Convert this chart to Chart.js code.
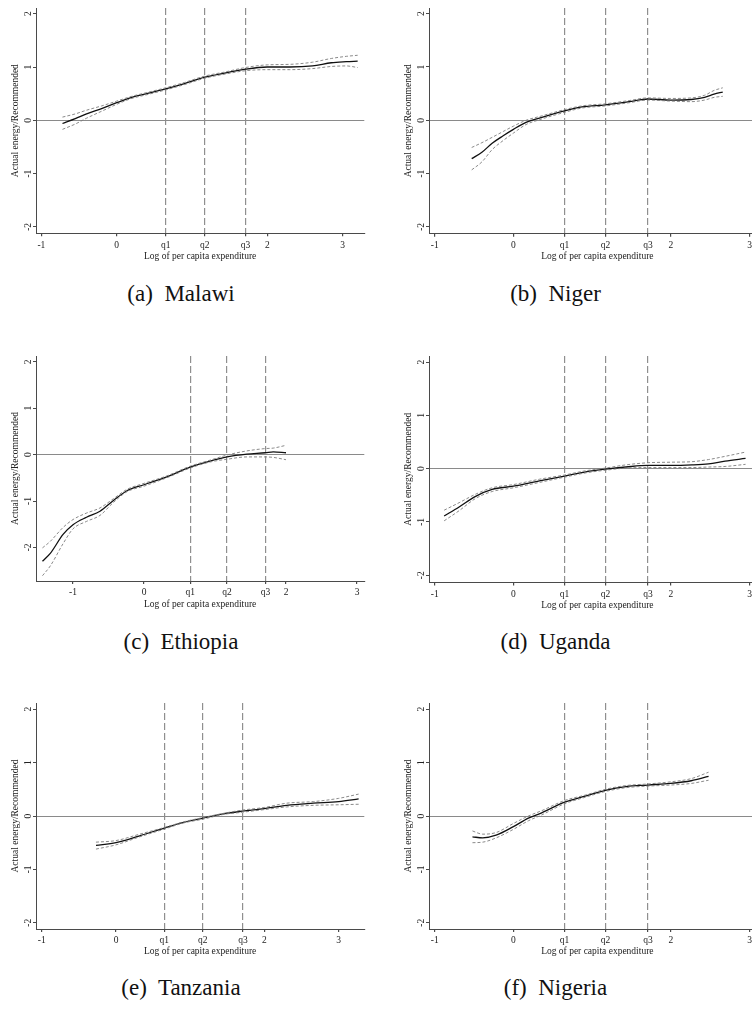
<!DOCTYPE html>
<html>
<head>
<meta charset="utf-8">
<script src="https://cdn.jsdelivr.net/npm/chart.js@4.4.1/dist/chart.umd.min.js"></script>
<style>
    html, body { margin: 0; padding: 0; width: 752px; height: 1015px; overflow: hidden; background: #fff; }
    #page { position: relative; width: 752px; height: 1015px; overflow: hidden; }
    canvas { position: absolute; }
    .caption { position: absolute; font-family: "Liberation Serif", serif; font-size: 23px; line-height: 26px; color: #111; white-space: pre; transform: translateX(-50%); }
</style>
</head>
<body>
<div id="page"></div>
<script>

const quartiles = [0.65, 1.17, 1.71]
const xTickValues = [-1, 0, ...quartiles, 2, 3]
const xTickLabels = ['-1', '0', 'q1', 'q2', 'q3', '2', '3']
const yTickValues = [-2, -1, 0, 1, 2]

const malawiX = [-0.72, -0.55, -0.4, -0.2, 0, 0.2, 0.4, 0.65, 0.9, 1.17, 1.45, 1.71, 2.0, 2.3, 2.6, 2.85, 3.05, 3.2]
const malawiFit = [-0.06, 0.03, 0.12, 0.22, 0.33, 0.43, 0.50, 0.59, 0.69, 0.81, 0.89, 0.96, 1.0, 1.0, 1.02, 1.08, 1.1, 1.11]
const malawiUpper = [0.06, 0.12, 0.19, 0.27, 0.36, 0.45, 0.52, 0.61, 0.71, 0.83, 0.91, 0.99, 1.04, 1.05, 1.09, 1.16, 1.2, 1.22]
const malawiLower = [-0.17, -0.07, 0.04, 0.17, 0.30, 0.41, 0.48, 0.57, 0.67, 0.79, 0.87, 0.93, 0.95, 0.95, 0.97, 1.01, 1.02, 0.99]

const nigerX = [-0.53, -0.4, -0.27, -0.13, 0, 0.16, 0.33, 0.65, 0.87, 1.17, 1.47, 1.71, 2.0, 2.26, 2.43, 2.55, 2.66]
const nigerFit = [-0.72, -0.6, -0.43, -0.29, -0.17, -0.04, 0.04, 0.175, 0.25, 0.29, 0.35, 0.40, 0.38, 0.39, 0.43, 0.49, 0.53]
const nigerUpper = [-0.51, -0.42, -0.32, -0.21, -0.11, 0.0, 0.07, 0.2, 0.27, 0.31, 0.37, 0.42, 0.41, 0.42, 0.47, 0.56, 0.61]
const nigerLower = [-0.93, -0.78, -0.55, -0.38, -0.24, -0.08, 0.01, 0.15, 0.23, 0.27, 0.33, 0.38, 0.36, 0.35, 0.38, 0.43, 0.45]

const ethiopiaX = [-1.43, -1.32, -1.14, -1.0, -0.81, -0.62, -0.43, -0.24, 0, 0.32, 0.65, 0.93, 1.17, 1.45, 1.71, 1.82, 2.0]
const ethiopiaFit = [-2.30, -2.13, -1.72, -1.51, -1.35, -1.22, -0.99, -0.78, -0.65, -0.48, -0.27, -0.14, -0.05, 0.01, 0.04, 0.06, 0.04]
const ethiopiaUpper = [-2.01, -1.87, -1.57, -1.40, -1.26, -1.15, -0.95, -0.75, -0.62, -0.46, -0.25, -0.12, -0.01, 0.08, 0.13, 0.14, 0.2]
const ethiopiaLower = [-2.61, -2.40, -1.92, -1.60, -1.44, -1.31, -1.03, -0.80, -0.68, -0.50, -0.29, -0.16, -0.10, -0.05, -0.05, -0.06, -0.11]

const ugandaX = [-0.88, -0.69, -0.48, -0.27, 0, 0.33, 0.65, 0.92, 1.17, 1.43, 1.71, 2.0, 2.27, 2.48, 2.69, 2.95]
const ugandaFit = [-0.89, -0.72, -0.52, -0.39, -0.33, -0.23, -0.14, -0.06, -0.01, 0.03, 0.06, 0.06, 0.07, 0.09, 0.14, 0.19]
const ugandaUpper = [-0.78, -0.64, -0.48, -0.36, -0.30, -0.20, -0.12, -0.04, 0.01, 0.07, 0.11, 0.12, 0.13, 0.17, 0.23, 0.31]
const ugandaLower = [-0.98, -0.79, -0.56, -0.43, -0.36, -0.26, -0.16, -0.08, -0.03, 0.01, 0.02, 0.02, 0.02, 0.03, 0.04, 0.08]

const tanzaniaX = [-0.27, 0, 0.32, 0.64, 0.91, 1.17, 1.45, 1.7, 2.0, 2.3, 2.66, 3.0, 3.27]
const tanzaniaFit = [-0.55, -0.50, -0.37, -0.23, -0.12, -0.04, 0.04, 0.09, 0.14, 0.20, 0.24, 0.27, 0.32]
const tanzaniaUpper = [-0.49, -0.46, -0.34, -0.22, -0.11, -0.03, 0.05, 0.11, 0.16, 0.24, 0.27, 0.33, 0.41]
const tanzaniaLower = [-0.62, -0.54, -0.39, -0.25, -0.13, -0.06, 0.03, 0.07, 0.12, 0.17, 0.20, 0.21, 0.22]

const nigeriaX = [-0.52, -0.39, -0.22, 0, 0.19, 0.36, 0.65, 0.91, 1.17, 1.43, 1.71, 2.0, 2.26, 2.48]
const nigeriaFit = [-0.39, -0.41, -0.36, -0.20, -0.04, 0.06, 0.26, 0.37, 0.48, 0.55, 0.58, 0.61, 0.66, 0.74]
const nigeriaUpper = [-0.28, -0.34, -0.31, -0.14, 0.0, 0.10, 0.29, 0.39, 0.50, 0.57, 0.60, 0.64, 0.70, 0.82]
const nigeriaLower = [-0.50, -0.49, -0.41, -0.25, -0.09, 0.02, 0.23, 0.35, 0.46, 0.53, 0.56, 0.58, 0.61, 0.67]


// plot box in page pixels, pixel of value 0 on each axis, pixels per unit
const panels = [
    { caption: '(a)  Malawi', x: malawiX, fit: malawiFit, upper: malawiUpper, lower: malawiLower,
      box: { left: 36, top: 8, right: 364.3, bottom: 233.3 }, zero: { x: 116.7, y: 120.3 }, unit: { x: 75.3, y: 53.3 }, captionAt: [181, 294] },
    { caption: '(b)  Niger', x: nigerX, fit: nigerFit, upper: nigerUpper, lower: nigerLower,
      box: { left: 429.3, top: 8, right: 766, bottom: 233.7 }, zero: { x: 513.7, y: 120.3 }, unit: { x: 78.7, y: 53.3 }, captionAt: [555.5, 294] },
    { caption: '(c)  Ethiopia', x: ethiopiaX, fit: ethiopiaFit, upper: ethiopiaUpper, lower: ethiopiaLower,
      box: { left: 36, top: 355.7, right: 364.3, bottom: 580.7 }, zero: { x: 144, y: 454.3 }, unit: { x: 71, y: 46.4 }, captionAt: [181, 641.5] },
    { caption: '(d)  Uganda', x: ugandaX, fit: ugandaFit, upper: ugandaUpper, lower: ugandaLower,
      box: { left: 429.3, top: 355.7, right: 766, bottom: 582.3 }, zero: { x: 513.7, y: 468.3 }, unit: { x: 78.7, y: 53.3 }, captionAt: [555.5, 641.5] },
    { caption: '(e)  Tanzania', x: tanzaniaX, fit: tanzaniaFit, upper: tanzaniaUpper, lower: tanzaniaLower,
      box: { left: 36, top: 703, right: 364.3, bottom: 929 }, zero: { x: 116, y: 816 }, unit: { x: 74.2, y: 53.4 }, captionAt: [181, 988] },
    { caption: '(f)  Nigeria', x: nigeriaX, fit: nigeriaFit, upper: nigeriaUpper, lower: nigeriaLower,
      box: { left: 429.3, top: 703, right: 766, bottom: 929 }, zero: { x: 513.7, y: 816 }, unit: { x: 78.7, y: 53.4 }, captionAt: [555.5, 988] },
]

const $page = document.getElementById('page')

const axisFont = { family: 'Liberation Serif', size: 9.5 }
const textColor = '#222'
const axisColor = '#4a4a4a'


function toPoints(xs, ys) {
    return xs.map((x, i) => ({ x: x, y: ys[i] }))
}


function createChart(panel) {

    const yAxisWidth = 36
    const topPad = 8
    const canvasLeft = panel.box.left - yAxisWidth
    const canvasTop = panel.box.top - topPad
    const width = Math.ceil(panel.box.right - canvasLeft) + 4
    const height = Math.ceil(panel.box.bottom - canvasTop + 28)
    const xAxisHeight = height - (panel.box.bottom - canvasTop)

    const canvas = document.createElement('canvas')
    canvas.width = width
    canvas.height = height
    canvas.style.left = canvasLeft + 'px'
    canvas.style.top = canvasTop + 'px'
    $page.appendChild(canvas)

    const dataChart = {
        datasets: [
            {
                data: toPoints(panel.x, panel.upper),
                borderColor: '#7d7d7d',
                borderWidth: 0.9,
                borderDash: [3, 2]
            },
            {
                data: toPoints(panel.x, panel.lower),
                borderColor: '#7d7d7d',
                borderWidth: 0.9,
                borderDash: [3, 2]
            },
            {
                data: toPoints(panel.x, panel.fit),
                borderColor: '#111',
                borderWidth: 1.3
            }
        ]
    }

    const options = {
        responsive: false,
        animation: false,
        events: [],
        layout: {
            padding: { left: 0, top: topPad, right: width - (panel.box.right - canvasLeft), bottom: 0 }
        },
        elements: {
            point: { radius: 0 },
            line: { cubicInterpolationMode: 'monotone', fill: false }
        },
        plugins: {
            legend: { display: false },
            tooltip: { enabled: false }
        },
        scales: {
            x: {
                type: 'linear',
                min: (panel.box.left - panel.zero.x) / panel.unit.x,
                max: (panel.box.right - panel.zero.x) / panel.unit.x,
                afterBuildTicks: (scale) => { scale.ticks = xTickValues.map((v) => ({ value: v })) },
                afterFit: (scale) => { scale.height = xAxisHeight },
                ticks: {
                    autoSkip: false,
                    maxRotation: 0,
                    padding: 3,
                    color: textColor,
                    font: axisFont,
                    callback: (value, index) => xTickLabels[index]
                },
                grid: {
                    drawOnChartArea: true,
                    tickLength: 3,
                    tickColor: axisColor,
                    lineWidth: 1.2,
                    color: (ctx) => (ctx.tick && quartiles.includes(ctx.tick.value)) ? '#8f8f8f' : 'rgba(0,0,0,0)'
                },
                border: { display: true, color: axisColor, width: 1, dash: [7, 3] },
                title: {
                    display: true,
                    text: 'Log of per capita expenditure',
                    color: textColor,
                    font: axisFont,
                    padding: { top: 0, bottom: 0 }
                }
            },
            y: {
                min: (panel.zero.y - panel.box.bottom) / panel.unit.y,
                max: (panel.zero.y - panel.box.top) / panel.unit.y,
                afterBuildTicks: (scale) => { scale.ticks = yTickValues.map((v) => ({ value: v })) },
                afterFit: (scale) => { scale.width = yAxisWidth },
                ticks: {
                    minRotation: 90,
                    maxRotation: 90,
                    crossAlign: 'center',
                    padding: 1,
                    color: textColor,
                    font: axisFont,
                    callback: (value) => String(value)
                },
                grid: {
                    drawOnChartArea: true,
                    tickLength: 3,
                    tickColor: axisColor,
                    lineWidth: 1,
                    color: (ctx) => (ctx.tick && ctx.tick.value === 0) ? '#8a8a8a' : 'rgba(0,0,0,0)'
                },
                border: { display: true, color: axisColor, width: 1 },
                title: {
                    display: true,
                    text: 'Actual energy/Recommended',
                    color: textColor,
                    font: axisFont,
                    padding: { top: 10, bottom: 0 }
                }
            }
        }
    }

    new Chart(canvas, {
        type: 'line',
        data: dataChart,
        options: options
    })

    const $caption = document.createElement('div')
    $caption.className = 'caption'
    $caption.textContent = panel.caption
    $caption.style.left = panel.captionAt[0] + 'px'
    $caption.style.top = (panel.captionAt[1] - 13) + 'px'
    $page.appendChild($caption)
}


panels.forEach((panel) => createChart(panel))

</script>
</body>
</html>
